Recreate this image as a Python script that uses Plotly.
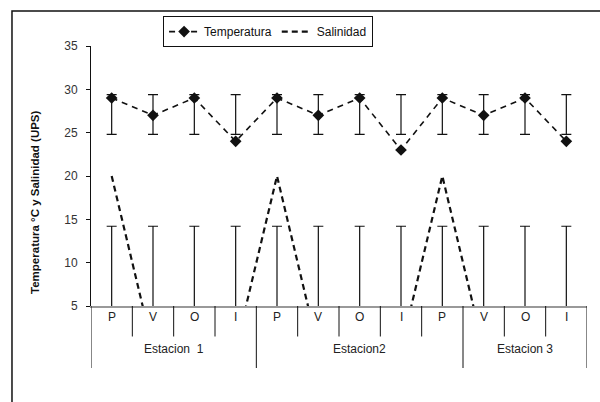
import plotly.graph_objects as go

# categorias (estacion del anio) y estaciones de muestreo
temporadas = ['P', 'V', 'O', 'I', 'P', 'V', 'O', 'I', 'P', 'V', 'O', 'I']
estaciones = ['Estacion\u00a0\u00a01', 'Estacion2', 'Estacion 3']
estacion_inicio = [0, 4, 9]
estacion_fin = [3, 8, 11]

temperatura = [29, 27, 29, 24, 29, 27, 29, 23, 29, 27, 29, 24]
salinidad = [20, 0, 0, 0, 20, 0, 0, 0, 20, 0, 0, 0]

# limites de las barras de error (tal como aparecen en la figura)
temp_err_bajo = [24.8, 24.8, 24.8, 24.8, 24.8, 24.8, 24.8, 24.8, 24.8, 24.8, 24.8, 24.8]
temp_err_alto = [29.4, 29.4, 29.4, 29.4, 29.4, 29.4, 29.4, 29.4, 29.4, 29.4, 29.4, 29.4]
sal_err_bajo = [0, 0, 0, 0, 0, 0, 0, 0, 0, 0, 0, 0]
sal_err_alto = [14.2, 14.2, 14.2, 14.2, 14.2, 14.2, 14.2, 14.2, 14.2, 14.2, 14.2, 14.2]

x = list(range(len(temporadas)))
FONT = 'Arial, Liberation Sans, sans-serif'

fig = go.Figure()

# barras de error: traza invisible en el punto medio
fig.add_trace(go.Scatter(
  x=x,
  y=[(a + b) / 2 for a, b in zip(temp_err_bajo, temp_err_alto)],
  mode='markers',
  marker=dict(size=1, color='rgba(0,0,0,0)'),
  error_y=dict(type='data', array=[(b - a) / 2 for a, b in zip(temp_err_bajo, temp_err_alto)],
               color='#111', thickness=1.2, width=5),
  showlegend=False, hoverinfo='skip',
))
fig.add_trace(go.Scatter(
  x=x,
  y=[(a + b) / 2 for a, b in zip(sal_err_bajo, sal_err_alto)],
  mode='markers',
  marker=dict(size=1, color='rgba(0,0,0,0)'),
  error_y=dict(type='data', array=[(b - a) / 2 for a, b in zip(sal_err_bajo, sal_err_alto)],
               color='#111', thickness=1.2, width=5),
  showlegend=False, hoverinfo='skip',
))

fig.add_trace(go.Scatter(
  x=x,
  y=temperatura,
  mode='lines+markers',
  name='Temperatura',
  line=dict(color='#111', width=1.6, dash='6px,5px'),
  marker=dict(symbol='diamond', size=9, color='#111'),
))
fig.add_trace(go.Scatter(
  x=x,
  y=salinidad,
  mode='lines',
  name='Salinidad',
  line=dict(color='#111', width=2.2, dash='6px,4px'),
))

shapes = []
annotations = []

# separadores entre categorias y etiquetas P V O I
bordes = [s - 0.5 for s in estacion_inicio] + [estacion_fin[-1] + 0.5]
for i in range(len(temporadas) + 1):
  y_fin = -0.2385 if (i - 0.5) in bordes else -0.1173
  shapes.append(dict(type='line', xref='x', yref='paper', x0=i - 0.5, x1=i - 0.5,
                     y0=0, y1=y_fin, line=dict(color='#111', width=1)))
for i, t in enumerate(temporadas):
  annotations.append(dict(x=i, y=-0.077, xref='x', yref='paper', text=t, showarrow=False,
                          font=dict(family=FONT, size=12, color='#222')))
for nombre, a, b in zip(estaciones, estacion_inicio, estacion_fin):
  annotations.append(dict(x=(a + b) / 2, y=-0.2, xref='x', yref='paper', text=nombre,
                          showarrow=False, font=dict(family=FONT, size=12, color='#222')))

# titulo del eje y
annotations.append(dict(x=-0.113, y=0.40, xref='paper', yref='paper',
                        xanchor='center', yanchor='middle',
                        text='<b>Temperatura °C y Salinidad (UPS)</b>', textangle=-90,
                        showarrow=False, font=dict(family=FONT, size=11.5, color='#111')))

# marco exterior
shapes.append(dict(type='rect', xref='paper', yref='paper', x0=-0.1593, x1=1.05,
                   y0=-0.4, y1=1.1346, line=dict(color='#111', width=1.5)))

fig.update_layout(
  width=600,
  height=402,
  margin=dict(l=91, r=13, t=46, b=96, autoexpand=False),
  paper_bgcolor='white',
  plot_bgcolor='white',
  font=dict(family=FONT, size=12, color='#222'),
  xaxis=dict(
    range=[-0.5, 11.5],
    showgrid=False,
    zeroline=False,
    showticklabels=False,
    showline=True,
    linecolor='#999',
    linewidth=2,
    automargin=False,
  ),
  yaxis=dict(
    range=[5, 35],
    dtick=5,
    showgrid=False,
    zeroline=False,
    showline=True,
    linecolor='#111',
    linewidth=1,
    ticks='outside',
    ticklen=4,
    tickcolor='#111',
    ticklabelstandoff=6,
    tickfont=dict(family=FONT, size=12, color='#333'),
    automargin=False,
  ),
  legend=dict(
    orientation='h',
    x=0.357,
    xanchor='center',
    y=1.115,
    yanchor='top',
    bordercolor='#111',
    borderwidth=1,
    bgcolor='white',
    font=dict(family=FONT, size=12, color='#111'),
  ),
  shapes=shapes,
  annotations=annotations,
)

fig.write_html('out.html', config={'displayModeBar': False},
               post_script="document.body.style.margin='0';document.body.style.overflow='hidden';")
